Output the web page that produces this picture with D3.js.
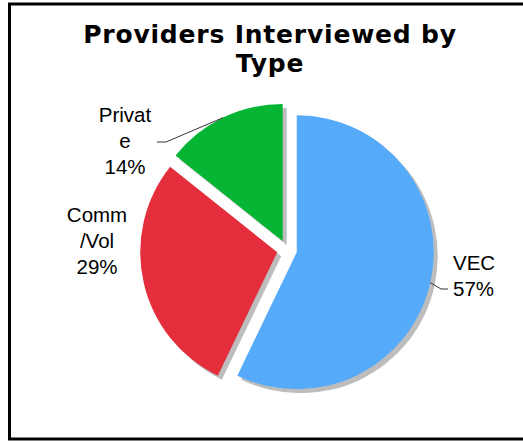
<!DOCTYPE html>
<html>
<head>
<meta charset="utf-8">
<script src="https://cdn.jsdelivr.net/npm/d3@7"></script>
<style>
  html, body { margin: 0; padding: 0; background: #fff; }
  svg { display: block; }
</style>
</head>
<body>
<svg id="chart" width="523" height="441"></svg>
<script>
// Provider counts by type
const categories = ["VEC", "Comm/Vol", "Private"];
const counts = [4, 2, 1];
const labelLines = [["VEC"], ["Comm", "/Vol"], ["Privat", "e"]];
const colors = ["#55aaf9", "#e52e3b", "#06b533"];
const titleLines = ["Providers Interviewed by", "Type"];

const svg = d3.select("#chart");
const W = 523, H = 441;

// Outer frame
svg.append("rect")
  .attr("x", 9.5).attr("y", 4).attr("width", W + 10).attr("height", 435)
  .attr("fill", "#fff").attr("stroke", "#000").attr("stroke-width", 3);

// Title
const title = svg.append("text")
  .attr("text-anchor", "middle")
  .attr("font-family", "DejaVu Sans")
  .attr("font-weight", "bold")
  .attr("font-size", 25)
  .attr("letter-spacing", 0.8)
  .attr("fill", "#000");
titleLines.forEach((t, i) => {
  title.append("tspan").attr("x", 270).attr("y", 43 + i * 29).text(t);
});

// Pie layout
const cx = 287, cy = 250, R = 137, explode = 10;
const pie = d3.pie().sort(null).value(d => d).startAngle(0).endAngle(2 * Math.PI);
const arcs = pie(counts);
const arc = d3.arc().innerRadius(0).outerRadius(R);
const total = d3.sum(counts);

const g = svg.append("g").attr("transform", `translate(${cx},${cy})`);

function offset(d) {
  const a = (d.startAngle + d.endAngle) / 2;
  return [Math.sin(a) * explode, -Math.cos(a) * explode];
}

// Drop shadows
g.selectAll("path.shadow")
  .data(arcs).join("path")
  .attr("class", "shadow")
  .attr("d", arc)
  .attr("fill", "#bdbdbd")
  .attr("transform", d => { const [x, y] = offset(d); return `translate(${x + 4},${y + 4})`; });

// Slices
g.selectAll("path.slice")
  .data(arcs).join("path")
  .attr("class", "slice")
  .attr("d", arc)
  .attr("fill", (d, i) => colors[i])
  .attr("transform", d => { const [x, y] = offset(d); return `translate(${x},${y})`; });

// Label anchors relative to the pie centre
const labelPos = [
  { x: 186, y: 26, anchor: "start", dx: -20 },
  { x: -190, y: -9, anchor: "middle" },
  { x: -162, y: -109, anchor: "middle" }
];

const fmt = v => Math.round(v / total * 100) + "%";

arcs.forEach((d, i) => {
  const p = labelPos[i];
  const lines = labelLines[i].concat([fmt(d.value)]);
  const lh = 26;
  const t = g.append("text")
    .attr("text-anchor", p.anchor)
    .attr("font-family", "Liberation Sans, Arial, sans-serif")
    .attr("font-size", 20.5)
    .attr("fill", "#000");
  const y0 = p.y - (lines.length - 1) * lh / 2;
  lines.forEach((s, k) => {
    t.append("tspan")
      .attr("x", p.anchor === "start" ? p.x + p.dx : p.x)
      .attr("y", y0 + k * lh)
      .attr("dy", "0.35em")
      .text(s);
  });
});

// Leader lines for VEC and Private
const leader = d3.line();
function arcPoint(d, r) {
  const a = (d.startAngle + d.endAngle) / 2;
  const [ox, oy] = offset(d);
  return [ox + Math.sin(a) * r, oy - Math.cos(a) * r];
}
const vecEnd = arcPoint(arcs[0], R);
g.append("path")
  .attr("d", leader([vecEnd, [154, 39], [161, 39]]))
  .attr("fill", "none").attr("stroke", "#333").attr("stroke-width", 1);
const privEnd = arcPoint(arcs[2], R);
g.append("path")
  .attr("d", leader([privEnd, [-121, -108], [-130, -108]]))
  .attr("fill", "none").attr("stroke", "#333").attr("stroke-width", 1);
</script>
</body>
</html>
